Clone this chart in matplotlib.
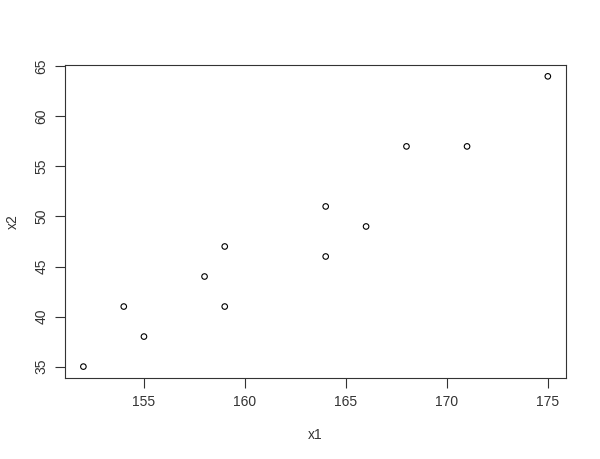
import matplotlib
matplotlib.use('Agg')
import matplotlib.pyplot as plt

plt.rcParams['font.family'] = ['Liberation Sans', 'DejaVu Sans']

x1 = [152, 154, 155, 158, 159, 159, 164, 164, 166, 168, 171, 175]
x2 = [35, 41, 38, 44, 47, 41, 51, 46, 49, 57, 57, 64]
xticks = [155, 160, 165, 170, 175]
yticks = [35, 40, 45, 50, 55, 60, 65]

fig = plt.figure(figsize=(6, 4.59), dpi=100)
ax = fig.add_axes([0.108, 0.176, 0.836, 0.683])

ax.scatter(x1, x2, s=16, facecolors='none', edgecolors='black', linewidths=0.8)

# R-style 4% padding
xr = max(x1) - min(x1)
yr = max(x2) - min(x2)
ax.set_xlim(min(x1) - 0.04 * xr, max(x1) + 0.04 * xr)
ax.set_ylim(min(x2) - 0.04 * yr, max(x2) + 0.04 * yr)

ax.set_xticks(xticks)
ax.set_yticks(yticks)
ax.tick_params(direction='out', length=7, width=0.8, colors='#333333', labelsize=10, pad=5)
for lab in ax.get_yticklabels():
    lab.set_rotation(90)
    lab.set_va('center')
for sp in ax.spines.values():
    sp.set_color('#333333')
    sp.set_linewidth(0.8)

ax.set_xlabel('x1', fontsize=10, color='#333333', labelpad=14)
ax.set_ylabel('x2', fontsize=10, color='#333333', labelpad=10)

fig.savefig('out.png', dpi=100)
